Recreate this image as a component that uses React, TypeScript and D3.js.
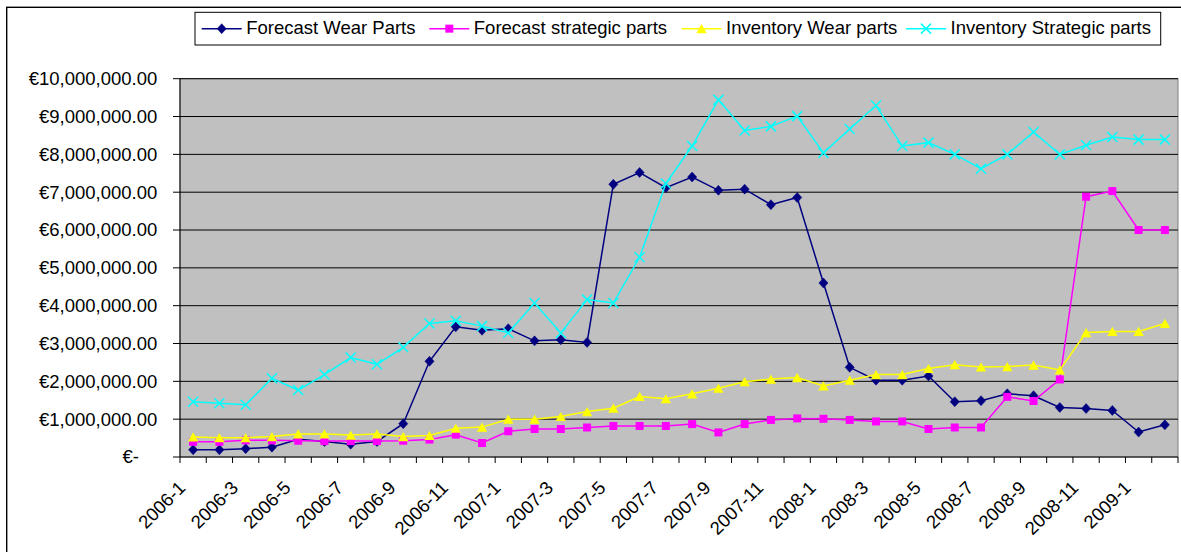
import React from "react";
import * as d3 from "d3";

// Monthly categories on the x axis
const categories = [
  "2006-1", "2006-2", "2006-3", "2006-4", "2006-5", "2006-6", "2006-7", "2006-8", "2006-9", "2006-10", "2006-11", "2006-12",
  "2007-1", "2007-2", "2007-3", "2007-4", "2007-5", "2007-6", "2007-7", "2007-8", "2007-9", "2007-10", "2007-11", "2007-12",
  "2008-1", "2008-2", "2008-3", "2008-4", "2008-5", "2008-6", "2008-7", "2008-8", "2008-9", "2008-10", "2008-11", "2008-12",
  "2009-1", "2009-2",
];

// Values in euros
const forecastWearParts = [
  190000, 190000, 220000, 260000, 470000, 410000, 340000, 410000, 880000, 2530000, 3440000, 3350000,
  3390000, 3070000, 3100000, 3030000, 7210000, 7520000, 7120000, 7400000, 7050000, 7080000, 6670000, 6860000,
  4600000, 2370000, 2030000, 2030000, 2140000, 1460000, 1490000, 1670000, 1620000, 1310000, 1280000, 1230000,
  660000, 850000,
];

const forecastStrategicParts = [
  400000, 400000, 440000, 440000, 430000, 420000, 420000, 420000, 430000, 460000, 590000, 370000,
  680000, 740000, 740000, 780000, 820000, 820000, 820000, 870000, 650000, 870000, 980000, 1020000,
  1010000, 980000, 940000, 940000, 740000, 780000, 780000, 1590000, 1480000, 2050000, 6880000, 7030000,
  6000000, 6000000,
];

const inventoryWearParts = [
  530000, 510000, 510000, 540000, 610000, 610000, 580000, 610000, 540000, 570000, 760000, 790000,
  1000000, 1000000, 1070000, 1200000, 1290000, 1600000, 1540000, 1670000, 1820000, 1990000, 2060000, 2100000,
  1880000, 2030000, 2180000, 2180000, 2340000, 2440000, 2380000, 2390000, 2430000, 2300000, 3290000, 3320000,
  3320000, 3530000,
];

const inventoryStrategicParts = [
  1460000, 1420000, 1380000, 2080000, 1770000, 2180000, 2630000, 2450000, 2900000, 3530000, 3600000, 3460000,
  3280000, 4070000, 3280000, 4160000, 4070000, 5280000, 7230000, 8220000, 9440000, 8630000, 8740000, 9010000,
  8040000, 8670000, 9290000, 8220000, 8310000, 8000000, 7620000, 8000000, 8590000, 8000000, 8240000, 8460000,
  8390000, 8390000,
];

const yTicks = [0, 1000000, 2000000, 3000000, 4000000, 5000000, 6000000, 7000000, 8000000, 9000000, 10000000];

const seriesNames = [
  "Forecast Wear Parts",
  "Forecast strategic parts",
  "Inventory Wear parts",
  "Inventory Strategic parts",
];

type Marker = "diamond" | "square" | "triangle" | "x";

const series: { name: string; values: number[]; color: string; marker: Marker }[] = [
  { name: seriesNames[0], values: forecastWearParts, color: "#000080", marker: "diamond" },
  { name: seriesNames[1], values: forecastStrategicParts, color: "#FF00FF", marker: "square" },
  { name: seriesNames[2], values: inventoryWearParts, color: "#FFFF00", marker: "triangle" },
  { name: seriesNames[3], values: inventoryStrategicParts, color: "#00FFFF", marker: "x" },
];

const W = 1181;
const H = 552;
const plot = { left: 180, right: 1178, top: 78.7, bottom: 457 };
const FONT = "'Liberation Sans', Arial, sans-serif";
const FS = 18.5;

// Legend layout
const legendBox = { x: 195, y: 12.3, w: 965.7, h: 32.7 };
const legendItemX = [201.7, 429.3, 681.5, 906];
const legendSample = 40;

function MarkerShape({ type, x, y, color }: { type: Marker; x: number; y: number; color: string }) {
  if (type === "diamond") {
    const a = 4.6, b = 5;
    return <path d={`M${x},${y - b}L${x + a},${y}L${x},${y + b}L${x - a},${y}Z`} fill={color} stroke={color} strokeWidth={0.5} />;
  }
  if (type === "square") {
    const s = 8;
    return <rect x={x - s / 2} y={y - s / 2} width={s} height={s} fill={color} />;
  }
  if (type === "triangle") {
    const hw = 5.2, hh = 4.6;
    return <path d={`M${x},${y - hh}L${x + hw},${y + hh}L${x - hw},${y + hh}Z`} fill={color} />;
  }
  const r = 5;
  return (
    <path
      d={`M${x - r},${y - r}L${x + r},${y + r}M${x - r},${y + r}L${x + r},${y - r}`}
      stroke={color}
      strokeWidth={1.5}
      fill="none"
    />
  );
}

export default function App() {
  const x = d3.scaleBand<string>().domain(categories).range([plot.left, plot.right]).padding(0);
  const y = d3.scaleLinear().domain([0, 10000000]).range([plot.bottom, plot.top]);
  const cx = (c: string) => (x(c) as number) + x.bandwidth() / 2;
  const fmt = d3.format(",.2f");

  const line = d3
    .line<number>()
    .x((_, i) => cx(categories[i]))
    .y((v) => y(v));

  const boundaries = d3.range(categories.length + 1).map((i) => plot.left + i * x.bandwidth());

  return (
    <svg
      width={W}
      height={H}
      style={{ position: "absolute", left: 0, top: 0, background: "#fff" }}
      fontFamily={FONT}
    >
      {/* chart area frame */}
      <rect x={6.7} y={7.3} width={W + 10} height={H + 10} fill="#fff" stroke="#000" strokeWidth={1.4} />

      {/* plot area */}
      <rect
        x={plot.left}
        y={plot.top}
        width={plot.right - plot.left}
        height={plot.bottom - plot.top}
        fill="#C0C0C0"
        stroke="#808080"
        strokeWidth={1}
      />

      {/* gridlines */}
      {yTicks.slice(1).map((t) => (
        <line key={t} x1={plot.left} x2={plot.right} y1={y(t)} y2={y(t)} stroke="#000" strokeWidth={1} />
      ))}

      {/* y axis */}
      <line x1={plot.left} x2={plot.left} y1={plot.top} y2={plot.bottom} stroke="#000" strokeWidth={1} />
      {yTicks.map((t) => (
        <g key={t}>
          <line x1={plot.left - 7} x2={plot.left} y1={y(t)} y2={y(t)} stroke="#000" strokeWidth={1} />
          <text
            x={t === 0 ? 139 : 157.3}
            y={y(t)}
            dy="0.35em"
            textAnchor="end"
            fontSize={FS}
            fill="#000"
          >
            {t === 0 ? "€-" : "€" + fmt(t)}
          </text>
        </g>
      ))}

      {/* x axis */}
      <line x1={plot.left} x2={plot.right} y1={plot.bottom} y2={plot.bottom} stroke="#000" strokeWidth={1} />
      {boundaries.map((bx, i) => (
        <line key={i} x1={bx} x2={bx} y1={plot.bottom} y2={plot.bottom + 6} stroke="#000" strokeWidth={1} />
      ))}
      {categories.map((c, i) =>
        i % 2 === 0 ? (
          <text
            key={c}
            transform={`translate(${cx(c) - 6.5},${plot.bottom + 32}) rotate(-45)`}
            textAnchor="end"
            fontSize={FS}
            fill="#000"
          >
            {c}
          </text>
        ) : null
      )}

      {/* series */}
      {series.map((s) => (
        <g key={s.name}>
          <path d={line(s.values) || ""} fill="none" stroke={s.color} strokeWidth={1.5} />
          {s.values.map((v, i) => (
            <MarkerShape key={i} type={s.marker} x={cx(categories[i])} y={y(v)} color={s.color} />
          ))}
        </g>
      ))}

      {/* legend */}
      <rect x={legendBox.x} y={legendBox.y} width={legendBox.w} height={legendBox.h} fill="#fff" stroke="#000" strokeWidth={1} />
      {series.map((s, i) => {
        const lx = legendItemX[i];
        const ly = legendBox.y + legendBox.h / 2;
        return (
          <g key={s.name}>
            <line x1={lx} x2={lx + legendSample} y1={ly} y2={ly} stroke={s.color} strokeWidth={1.5} />
            <MarkerShape type={s.marker} x={lx + legendSample / 2} y={ly} color={s.color} />
            <text x={lx + legendSample + 4.5} y={34} fontSize={FS} fill="#000">
              {s.name}
            </text>
          </g>
        );
      })}
    </svg>
  );
}
